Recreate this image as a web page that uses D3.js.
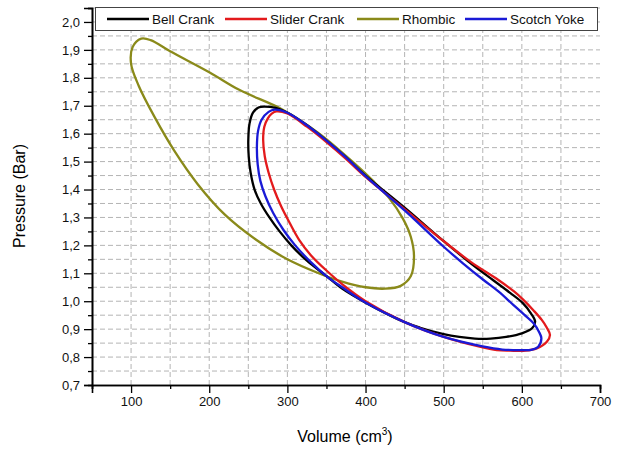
<!DOCTYPE html>
<html>
<head>
<meta charset="utf-8">
<script src="https://cdn.jsdelivr.net/npm/d3@7"></script>
<style>
  body { margin: 0; background: #fff; }
  svg text { font-family: "Liberation Sans", Arial, sans-serif; }
</style>
</head>
<body>
<div id="chart"></div>
<script>
// series names and colours
const seriesNames = ["Bell Crank", "Slider Crank", "Rhombic", "Scotch Yoke"];
const seriesColors = ["#000000", "#e31a1c", "#8a8a1a", "#1a1ad6"];

// Bell Crank loop: volume (cm3) / pressure (bar)
const bellV = [271, 285, 300, 325, 350, 375, 400, 450, 500, 535, 563, 585, 601, 612, 617, 613, 600, 580, 560, 540, 520, 500, 470, 450, 400, 370, 350, 325, 305, 290, 277, 266, 258, 253, 250.5, 250, 251.5, 256, 263];
const bellP = [1.697, 1.692, 1.675, 1.63, 1.575, 1.515, 1.45, 1.335, 1.215, 1.135, 1.076, 1.03, 0.994, 0.955, 0.927, 0.903, 0.885, 0.872, 0.866, 0.866, 0.872, 0.882, 0.905, 0.925, 0.995, 1.045, 1.09, 1.145, 1.2, 1.25, 1.3, 1.35, 1.4, 1.46, 1.52, 1.578, 1.635, 1.675, 1.694];

// Slider Crank loop
const sliderV = [286, 300, 325, 350, 375, 400, 450, 500, 535, 570, 590, 602, 615, 625.5, 632, 636, 632, 619, 605, 585, 568, 546, 500, 450, 400, 375, 350, 330, 315, 303, 292, 283, 276, 271, 269, 270.5, 275, 280];
const sliderP = [1.68, 1.672, 1.625, 1.57, 1.51, 1.445, 1.33, 1.215, 1.14, 1.076, 1.035, 1.005, 0.967, 0.933, 0.905, 0.879, 0.855, 0.831, 0.823, 0.823, 0.825, 0.837, 0.872, 0.925, 1.0, 1.05, 1.11, 1.165, 1.22, 1.28, 1.34, 1.4, 1.46, 1.52, 1.578, 1.625, 1.655, 1.672];

// Rhombic loop
const rhombV = [113, 125, 150, 200, 239, 294, 340, 380, 410, 430, 448, 458, 462, 458, 445, 425, 400, 370, 340, 300, 260, 220, 185, 155, 130, 110, 100, 102];
const rhombP = [1.94, 1.935, 1.895, 1.82, 1.756, 1.686, 1.602, 1.508, 1.43, 1.37, 1.295, 1.23, 1.16, 1.09, 1.055, 1.045, 1.05, 1.07, 1.1, 1.15, 1.22, 1.31, 1.42, 1.54, 1.66, 1.77, 1.85, 1.91];

// Scotch Yoke loop
const scotchV = [284, 300, 325, 350, 375, 400, 450, 500, 525, 551, 570, 589, 603, 615, 622, 625, 621, 612, 598, 575, 550, 500, 450, 400, 370, 350, 330, 310, 295, 282, 272, 265.5, 262, 261, 262.5, 267, 276];
const scotchP = [1.686, 1.675, 1.63, 1.575, 1.515, 1.448, 1.325, 1.195, 1.135, 1.076, 1.035, 0.987, 0.952, 0.921, 0.89, 0.867, 0.837, 0.826, 0.825, 0.827, 0.838, 0.872, 0.925, 0.995, 1.05, 1.09, 1.14, 1.2, 1.255, 1.315, 1.375, 1.43, 1.49, 1.554, 1.61, 1.65, 1.678];

// ticks
const xMajor = [100, 200, 300, 400, 500, 600, 700];
const xMinor = [50, 150, 250, 350, 450, 550, 650];
const yMajor = [0.7, 0.8, 0.9, 1.0, 1.1, 1.2, 1.3, 1.4, 1.5, 1.6, 1.7, 1.8, 1.9, 2.0];
const yMinor = [0.75, 0.85, 0.95, 1.05, 1.15, 1.25, 1.35, 1.45, 1.55, 1.65, 1.75, 1.85, 1.95, 2.05];

const width = 621, height = 450;
const svg = d3.select("#chart").append("svg")
  .attr("width", width)
  .attr("height", height);

const x = d3.scaleLinear().domain([50, 700]).range([92, 600]);
const y = d3.scaleLinear().domain([0.7, 2.05]).range([385, 8]);

// grid, dashed at every major and minor tick
const grid = svg.append("g").attr("stroke", "#b4b4b4").attr("stroke-width", 1)
  .attr("stroke-dasharray", "5,3");
grid.selectAll("line.gx")
  .data(xMajor.concat(xMinor).filter(d => d > 50 && d < 700))
  .enter().append("line")
    .attr("x1", d => x(d)).attr("x2", d => x(d))
    .attr("y1", y(0.7)).attr("y2", y(2.05));
grid.selectAll("line.gy")
  .data(yMajor.concat(yMinor).filter(d => d > 0.7))
  .enter().append("line")
    .attr("x1", x(50)).attr("x2", x(700))
    .attr("y1", d => y(d)).attr("y2", d => y(d));

// curves
const series = [
  [bellV, bellP],
  [sliderV, sliderP],
  [rhombV, rhombP],
  [scotchV, scotchP]
];
const line = d3.line()
  .x(d => x(d[0]))
  .y(d => y(d[1]))
  .curve(d3.curveCatmullRomClosed.alpha(0.5));

// draw order: rhombic under, then black, red, blue
[2, 0, 1, 3].forEach(i => {
  const pts = d3.zip(series[i][0], series[i][1]);
  svg.append("path")
    .attr("d", line(pts))
    .attr("fill", "none")
    .attr("stroke", seriesColors[i])
    .attr("stroke-width", 2.3);
});

// axes
const fmt = d => d3.format(".1f")(d).replace(".", ",");
svg.append("g")
  .attr("transform", "translate(0," + y(0.7) + ")")
  .call(d3.axisBottom(x).tickValues(xMajor).tickSize(8).tickPadding(4).tickFormat(d3.format("d")));
svg.append("g")
  .attr("transform", "translate(0," + y(0.7) + ")")
  .call(d3.axisBottom(x).tickValues(xMinor).tickSize(4).tickFormat(""));
svg.append("g")
  .attr("transform", "translate(" + x(50) + ",0)")
  .call(d3.axisLeft(y).tickValues(yMajor).tickSize(8).tickPadding(4).tickFormat(fmt));
svg.append("g")
  .attr("transform", "translate(" + x(50) + ",0)")
  .call(d3.axisLeft(y).tickValues(yMinor).tickSize(4).tickFormat(""));

svg.selectAll(".domain").attr("stroke", "#000").attr("stroke-width", 1.6);
svg.selectAll(".tick line").attr("stroke", "#000").attr("stroke-width", 1.3);
svg.selectAll(".tick text").attr("font-size", 13).attr("fill", "#111")
  .attr("font-family", "'Liberation Sans', Arial, sans-serif");

// axis titles
svg.append("text")
  .attr("x", 345).attr("y", 442)
  .attr("text-anchor", "middle")
  .attr("font-size", 16)
  .text("Volume (cm")
  .append("tspan").attr("dy", -7).attr("font-size", 10).text("3")
  .select(function() { return this.parentNode; })
  .append("tspan").attr("dy", 7).attr("font-size", 16).text(")");

svg.append("text")
  .attr("transform", "translate(25,196) rotate(-90)")
  .attr("text-anchor", "middle")
  .attr("font-size", 16)
  .text("Pressure (Bar)");

// legend
const legendX = [107, 225, 357, 465];
const legend = svg.append("g");
legend.append("rect")
  .attr("x", 95.5).attr("y", 7.5)
  .attr("width", 502).attr("height", 23)
  .attr("fill", "#fff")
  .attr("stroke", "#444").attr("stroke-width", 1);
seriesNames.forEach((name, i) => {
  legend.append("line")
    .attr("x1", legendX[i]).attr("x2", legendX[i] + 42)
    .attr("y1", 19).attr("y2", 19)
    .attr("stroke", seriesColors[i]).attr("stroke-width", 2.3);
  legend.append("text")
    .attr("x", legendX[i] + 45).attr("y", 23.5)
    .attr("font-size", 13.5).attr("fill", "#111")
    .text(name);
});
</script>
</body>
</html>
